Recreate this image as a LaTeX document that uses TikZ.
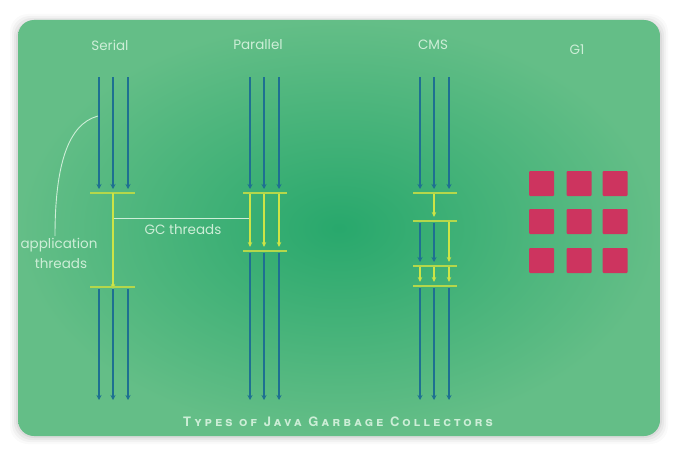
\documentclass[tikz,border=0pt]{standalone}
\usepackage{fontspec}
\newfontfamily\lblfont{Poppins}
\newfontfamily\ttlfont{TeX Gyre Heros}[LetterSpace=23]
\usetikzlibrary{arrows.meta}
\definecolor{bgin}{RGB}{40,168,108}
\definecolor{bgout}{RGB}{100,190,135}
\definecolor{appblue}{RGB}{30,112,145}
\definecolor{gcyellow}{RGB}{205,228,70}
\definecolor{barcol}{RGB}{180,215,75}
\definecolor{labcol}{RGB}{205,238,215}
\definecolor{g1red}{RGB}{205,52,95}
\begin{document}
\begin{tikzpicture}[x=1pt,y=-1pt,
  app/.style={draw=appblue, line width=1.8pt, -{Stealth[length=5pt,width=5pt]}},
  gc/.style={draw=gcyellow, line width=1.2pt, -{Stealth[length=5pt,width=4.5pt]}},
  gcbar/.style={draw=barcol, line width=1.6pt},
  pointer/.style={draw=labcol, line width=0.9pt},
  lab/.style={text=labcol, inner sep=0pt, font=\lblfont\fontsize{13.5}{15}\selectfont},
  region/.style={fill=g1red, rounded corners=1pt, minimum size=25pt, inner sep=0pt}]
\useasboundingbox (0,0) rectangle (677,452);
\fill[white] (0,0) rectangle (677,452);
\foreach \i/\o in {8/0.02,6/0.03,4/0.04,2/0.05}
  \fill[black,opacity=\o,rounded corners=18pt] (18-\i,20-\i+2) rectangle (660+\i,436+\i);
\shade[inner color=bgin, outer color=bgout, rounded corners=16pt] (18,20) rectangle (660,436);

% labels
\node[lab] (serial) at (110,45) {Serial};
\node[lab] (parallel) at (258,45) {Parallel};
\node[lab] (cms) at (433,45) {CMS};
\node[lab] (g1) at (577,50) {G1};

% Serial
\foreach \x in {99,113,128} {
  \draw[app] (\x,77) -- (\x,189);
  \draw[app] (\x,289) -- (\x,400);
}
\coordinate (s1) at (113,193);
\coordinate (s2) at (113,287);
\draw[gcbar] (90,193) -- (135,193);
\draw[gc] (s1) -- ([yshift=-2pt]s2);
\draw[gcbar] (90,287) -- (135,287);

% Parallel
\foreach \x in {250,264,279} {
  \draw[app] (\x,77) -- (\x,189);
  \draw[gc] (\x,194) -- (\x,247);
  \draw[app] (\x,253) -- (\x,400);
}
\draw[gcbar] (243,193) -- (287,193);
\draw[gcbar] (243,251) -- (287,251);

% CMS
\foreach \x in {420,434,449} {
  \draw[app] (\x,77) -- (\x,189);
  \draw[gc] (\x,267) -- (\x,282);
  \draw[app] (\x,288) -- (\x,400);
}
\draw[gcbar] (413,193) -- (457,193);
\draw[gc] (434,194) -- (434,217);
\draw[gcbar] (413,221) -- (457,221);
\draw[app] (420,223) -- (420,262);
\draw[app] (434,223) -- (434,262);
\draw[gc] (449,222) -- (449,262);
\draw[gcbar] (413,266) -- (457,266);
\draw[gcbar] (413,286) -- (457,286);

% annotations
\coordinate (gcA) at (114,218);
\coordinate (gcB) at (249,218);
\draw[pointer] (gcA) -- (gcB);
\node[lab] (gct) at (183,230) {GC threads};
\coordinate (apA) at (98,116);
\coordinate (apB) at (55,236);
\draw[pointer] (apA) .. controls (68,124) and (55,165) .. (apB);
\node[lab] (apt1) at (59,245) {application};
\node[lab] (apt2) at (61,264) {threads};

% G1 regions
\foreach \x [count=\i] in {541.5,579,615}
  \foreach \y [count=\j] in {183.5,221.5,260.5}
    \node[region] (r\i\j) at (\x,\y) {};

% title
\node[text=labcol, inner sep=0pt, font=\ttlfont\bfseries\scshape\fontsize{13}{15}\selectfont] (title) at (338,422) {Types of Java Garbage Collectors};
\end{tikzpicture}
\end{document}
